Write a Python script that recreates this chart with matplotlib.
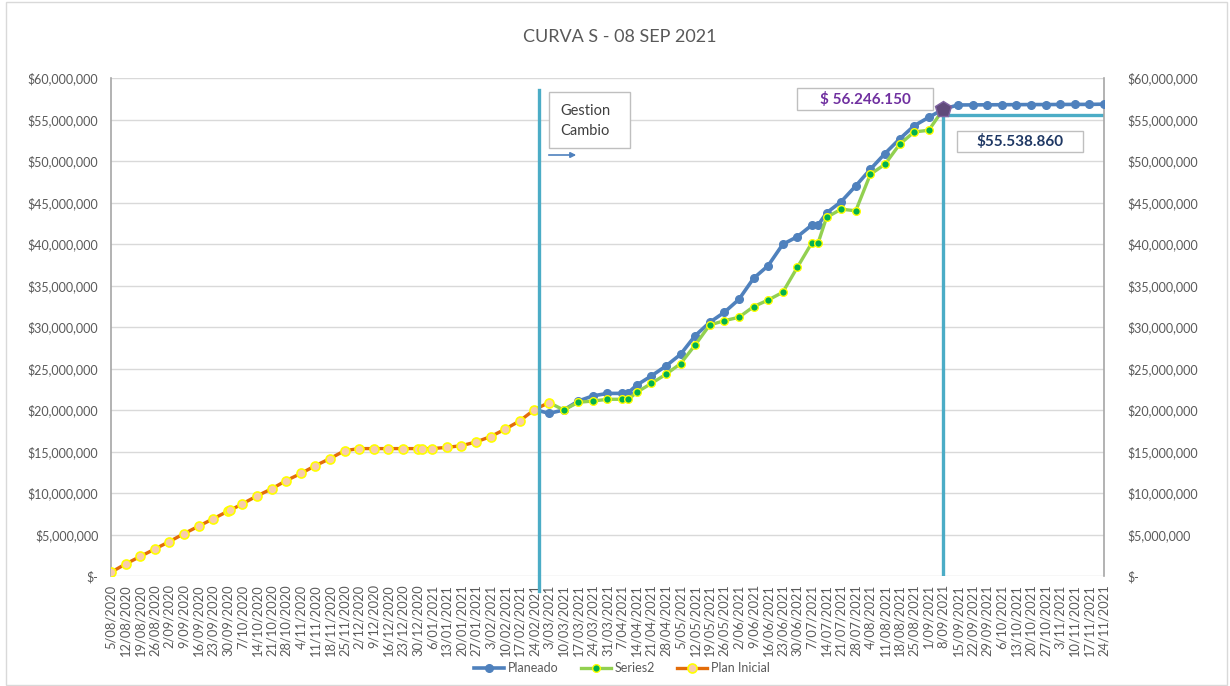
import datetime as dt
import numpy as np
import matplotlib.pyplot as plt
from matplotlib.patches import Rectangle, FancyArrowPatch

plt.rcParams['font.family'] = ['Lato', 'DejaVu Sans']

# ---- datos (valores en millones) ----
fechas_plan_inicial = ['5/08/2020', '12/08/2020', '19/08/2020', '26/08/2020', '2/09/2020', '9/09/2020',
                       '16/09/2020', '23/09/2020', '30/09/2020', '1/10/2020', '7/10/2020', '14/10/2020',
                       '21/10/2020', '28/10/2020', '4/11/2020', '11/11/2020', '18/11/2020', '25/11/2020',
                       '2/12/2020', '9/12/2020', '16/12/2020', '23/12/2020', '30/12/2020', '1/01/2021',
                       '6/01/2021', '13/01/2021', '20/01/2021', '27/01/2021', '3/02/2021', '10/02/2021',
                       '17/02/2021', '24/02/2021', '3/03/2021']
plan_inicial = [0.45, 1.45, 2.35, 3.25, 4.15, 5.1, 6.0, 6.9, 7.8, 7.9, 8.7, 9.65, 10.5, 11.5, 12.35,
                13.3, 14.15, 15.1, 15.35, 15.35, 15.35, 15.35, 15.35, 15.35, 15.35, 15.5, 15.7, 16.15,
                16.8, 17.7, 18.7, 20.05, 20.9]

fechas_planeado = ['24/02/2021', '3/03/2021', '10/03/2021', '17/03/2021', '24/03/2021', '31/03/2021',
                   '7/04/2021', '10/04/2021', '14/04/2021', '21/04/2021', '28/04/2021', '5/05/2021',
                   '12/05/2021', '19/05/2021', '26/05/2021', '2/06/2021', '9/06/2021', '16/06/2021',
                   '23/06/2021', '30/06/2021', '7/07/2021', '10/07/2021', '14/07/2021', '21/07/2021',
                   '28/07/2021', '4/08/2021', '11/08/2021', '18/08/2021', '25/08/2021', '1/09/2021',
                   '8/09/2021', '15/09/2021', '22/09/2021', '29/09/2021', '6/10/2021', '13/10/2021',
                   '20/10/2021', '27/10/2021', '3/11/2021', '10/11/2021', '17/11/2021', '24/11/2021']
planeado = [20.05, 19.6, 20.0, 21.08, 21.7, 22.0, 22.0, 22.1, 23.0, 24.1, 25.3, 26.7,
            28.95, 30.56, 31.77, 33.33, 35.86, 37.39, 39.96, 40.88, 42.29, 42.29, 43.75, 45.1,
            47.0, 49.0, 50.9, 52.65, 54.25, 55.26, 56.25, 56.75, 56.76, 56.77, 56.78, 56.79,
            56.8, 56.8, 56.81, 56.82, 56.82, 56.85]

fechas_series2 = ['3/03/2021', '10/03/2021', '17/03/2021', '24/03/2021', '31/03/2021', '7/04/2021',
                  '10/04/2021', '14/04/2021', '21/04/2021', '28/04/2021', '5/05/2021', '12/05/2021',
                  '19/05/2021', '26/05/2021', '2/06/2021', '9/06/2021', '16/06/2021', '23/06/2021',
                  '30/06/2021', '7/07/2021', '10/07/2021', '14/07/2021', '21/07/2021', '28/07/2021',
                  '4/08/2021', '11/08/2021', '18/08/2021', '25/08/2021', '1/09/2021', '8/09/2021']
series2 = [20.9, 20.0, 20.93, 21.08, 21.29, 21.29, 21.29, 22.13, 23.2, 24.3, 25.58, 27.83,
           30.24, 30.76, 31.17, 32.45, 33.25, 34.18, 37.19, 40.16, 40.16, 43.2, 44.2, 44.0,
           48.4, 49.6, 52.0, 53.5, 53.7, 56.25]

fecha_gestion = '26/02/2021'
fecha_corte = '8/09/2021'
valor_corte = 56.246150
valor_real = 55.538860


def to_dates(lst):
    return [dt.datetime.strptime(s, '%d/%m/%Y') for s in lst]


W, H = 1230, 686
fig = plt.figure(figsize=(W / 100, H / 100), dpi=100)
ax = fig.add_axes([111 / W, 1 - 576 / H, (1104 - 111) / W, (576 - 78) / H])


def px(x, y):
    return x / W, 1 - y / H


azul = '#4F81BD'
verde = '#92D050'
naranja = '#E36C09'
aqua = '#4BACC6'

l1, = ax.plot(to_dates(fechas_planeado), np.array(planeado) * 1e6, color=azul, lw=2.6,
              marker='o', ms=5.5, mfc=azul, mec=azul, zorder=3, label='Planeado')
l2, = ax.plot(to_dates(fechas_series2), np.array(series2) * 1e6, color=verde, lw=2.4,
              marker='o', ms=5.5, mfc='#00B050', mec='#FFFF00', mew=1.0, zorder=4, label='Series2')
l3, = ax.plot(to_dates(fechas_plan_inicial), np.array(plan_inicial) * 1e6, color=naranja, lw=2.4,
              marker='o', ms=6.5, mfc='#F8CBAD', mec='#FFFF00', mew=1.2, zorder=5, label='Plan Inicial')

# lineas de referencia
fg = dt.datetime.strptime(fecha_gestion, '%d/%m/%Y')
fc = dt.datetime.strptime(fecha_corte, '%d/%m/%Y')
ax.plot([fg, fg], [-1.8e6, 58.5e6], color=aqua, lw=2.4, zorder=6, clip_on=False)
ax.plot([fc, fc], [0, valor_corte * 1e6], color=aqua, lw=2.4, zorder=6)
ax.plot([fc, dt.datetime(2021, 11, 24)], [valor_real * 1e6] * 2, color=aqua, lw=2.4, zorder=2)
ax.plot([fc], [valor_corte * 1e6], marker='p', ms=12, color='#604A7B', mec='#8064A2', zorder=7)

# ejes
x0, x1 = dt.datetime(2020, 8, 5), dt.datetime(2021, 11, 24)
ax.set_xlim(x0, x1)
ax.set_ylim(0, 60e6)
ticks = [x0 + dt.timedelta(days=7 * i) for i in range(69)]
ax.set_xticks(ticks)
ax.set_xticklabels([f'{d.day}/{d.month:02d}/{d.year}' for d in ticks], rotation=90,
                   fontsize=9.3, color='#595959')
yt = np.arange(0, 60e6 + 1, 5e6)


def fmt(v):
    return '$-' if v == 0 else f'${v:,.0f}'


ax.set_yticks(yt)
ax.set_yticklabels([fmt(v) for v in yt], fontsize=9, color='#595959')
ax.tick_params(length=0, pad=9)
ax.tick_params(axis='x', pad=6)
ax.grid(axis='y', color='#D9D9D9', lw=1)
ax.set_axisbelow(True)
for s in ['top', 'bottom']:
    ax.spines[s].set_visible(False)
for s in ['left', 'right']:
    ax.spines[s].set_color('#A6A6A6')
    ax.spines[s].set_linewidth(1.2)

ax2 = ax.twinx()
ax2.set_ylim(0, 60e6)
ax2.set_yticks(yt)
ax2.set_yticklabels([fmt(v) for v in yt], fontsize=9, color='#595959')
ax2.tick_params(length=0, pad=17)
for s in ax2.spines.values():
    s.set_visible(False)

fig.text(*px(620, 37), 'CURVA S - 08 SEP 2021', ha='center', va='center', fontsize=13, color='#595959')

# cajas de texto
def caja(x, y, w, h):
    fig.patches.append(Rectangle(px(x, y + h), w / W, h / H, transform=fig.transFigure,
                                 facecolor='white', edgecolor='#BFBFBF', lw=1, zorder=10))

caja(549, 92, 81, 56)
fig.text(*px(560, 111), 'Gestion', ha='left', va='center', fontsize=10.5, color='#404040', zorder=11)
fig.text(*px(560, 131), 'Cambio', ha='left', va='center', fontsize=10.5, color='#404040', zorder=11)
fig.patches.append(FancyArrowPatch(px(546, 155), px(579, 155), transform=fig.transFigure,
                                   arrowstyle='-|>', mutation_scale=8, color=azul, lw=1.2, zorder=11))

caja(797, 88, 136, 22)
fig.text(*px(865, 99), '$ 56.246.150', ha='center', va='center', fontsize=11, fontweight='bold',
         color='#7030A0', zorder=11)
caja(957, 131, 126, 21)
fig.text(*px(1020, 142), '$55.538.860', ha='center', va='center', fontsize=11, fontweight='bold',
         color='#1F3864', zorder=11)

fig.legend(handles=[l1, l2, l3], loc='center', bbox_to_anchor=px(622, 668), ncol=3, frameon=False,
           fontsize=9, labelcolor='#595959', handlelength=2.4, columnspacing=1.8, handletextpad=0.3)

fig.patches.append(Rectangle((6 / W, 1 / H), 1221 / W, 683 / H, transform=fig.transFigure,
                             facecolor='none', edgecolor='#D9D9D9', lw=1))

fig.savefig('out.png', dpi=100)
